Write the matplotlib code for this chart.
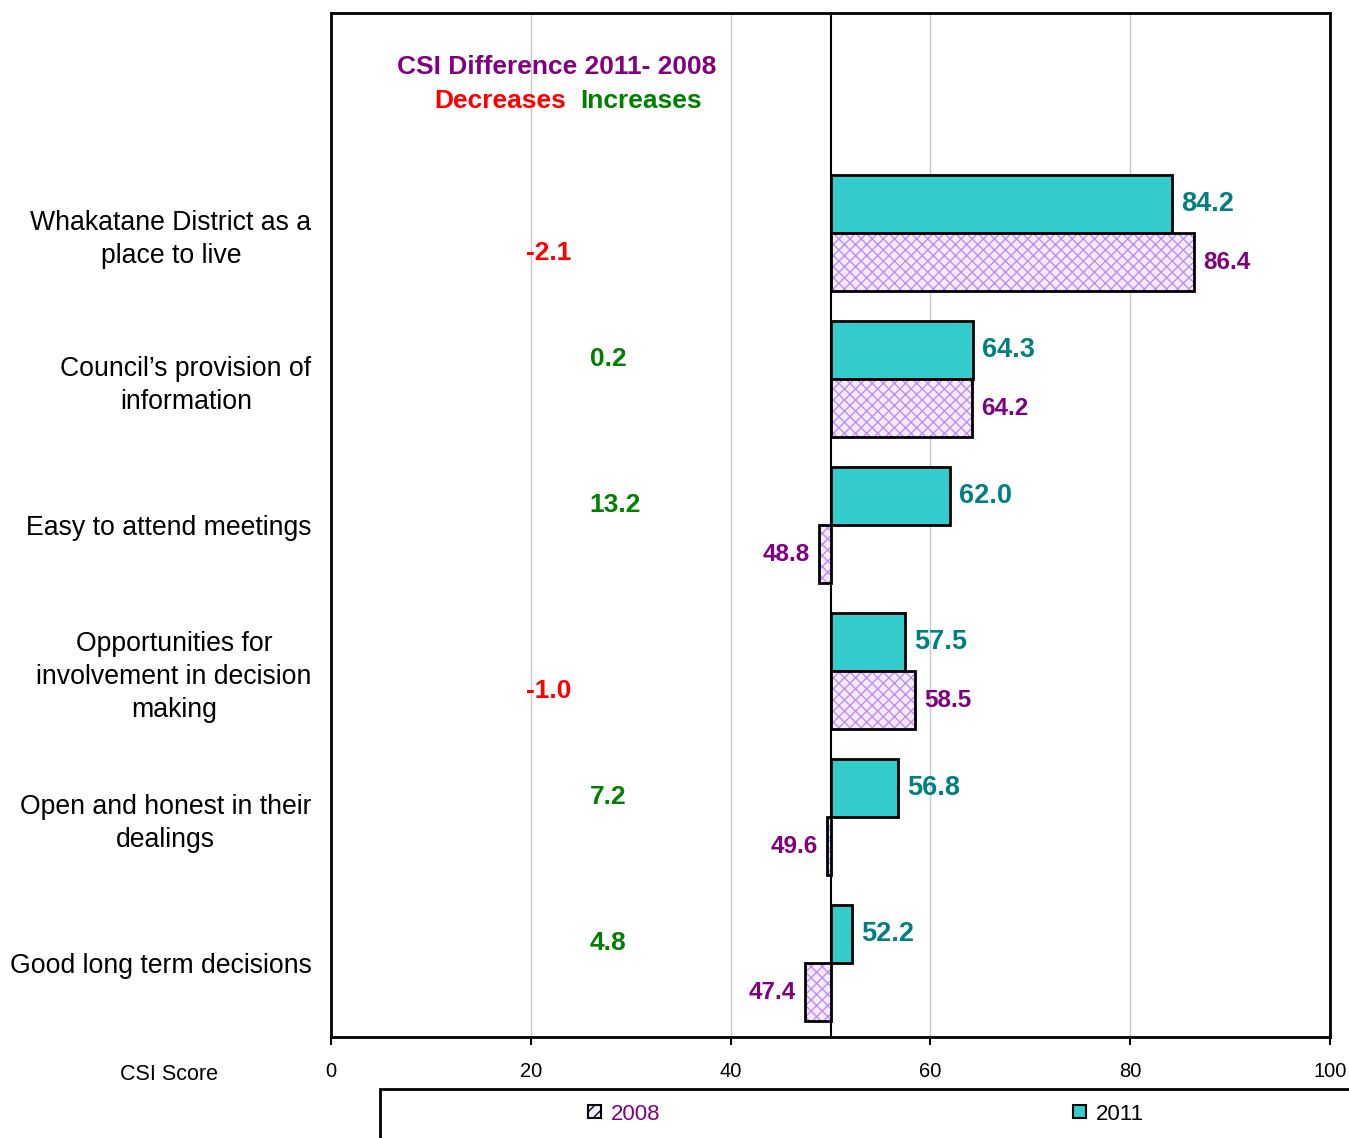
import numpy as np
import matplotlib.pyplot as plt
from matplotlib.patches import Rectangle, Patch

plt.rcParams['font.family'] = ['Liberation Sans', 'DejaVu Sans']

categories = ['Whakatane District as a\nplace to live',
              'Council\u2019s provision of\ninformation',
              'Easy to attend meetings',
              'Opportunities for\ninvolvement in decision\nmaking',
              'Open and honest in their\ndealings',
              'Good long term decisions']
score_2011 = [84.2, 64.3, 62.0, 57.5, 56.8, 52.2]
score_2008 = [86.4, 64.2, 48.8, 58.5, 49.6, 47.4]
difference = [-2.1, 0.2, 13.2, -1.0, 7.2, 4.8]
base = 50

teal = '#33CCCC'
teal_txt = '#008080'
purple = '#800080'
green = '#008000'
red = '#FF0000'

fig = plt.figure(figsize=(13.49, 11.38), dpi=100)
ax = fig.add_axes([331 / 1349, 1 - 1037 / 1138, (1330 - 331) / 1349, (1037 - 13) / 1138])

y = np.arange(len(categories))
h = 0.4
w11 = np.array(score_2011) - base
w08 = np.array(score_2008) - base

ax.barh(y - h / 2, w11, height=h, left=base, color=teal, edgecolor='black', linewidth=2, zorder=3)
# 2008 bars: hatched fill, then black outline
ax.barh(y + h / 2, w08, height=h, left=base, color='#f5ebff', edgecolor='#c08ef5',
        hatch='xxx', linewidth=0, zorder=3)
ax.barh(y + h / 2, w08, height=h, left=base, fill=False, edgecolor='black', linewidth=2, zorder=4)

for i in range(len(categories)):
    ax.text(score_2011[i] + 0.9, y[i] - h / 2, f'{score_2011[i]:.1f}', color=teal_txt,
            fontsize=19.5, fontweight='bold', va='center', ha='left')
    if score_2008[i] >= base:
        ax.text(score_2008[i] + 0.9, y[i] + h / 2, f'{score_2008[i]:.1f}', color=purple,
                fontsize=17.5, fontweight='bold', va='center', ha='left')
    else:
        ax.text(score_2008[i] - 0.9, y[i] + h / 2, f'{score_2008[i]:.1f}', color=purple,
                fontsize=17.5, fontweight='bold', va='center', ha='right')
    d = difference[i]
    if d < 0:
        ax.text(19.5, y[i] + 0.14, f'{d:.1f}', color=red, fontsize=19, fontweight='bold',
                va='center', ha='left')
    else:
        ax.text(25.9, y[i] - 0.14, f'{d:.1f}', color=green, fontsize=19, fontweight='bold',
                va='center', ha='left')

ax.text(22.6, -1.137, 'CSI Difference 2011- 2008', color=purple, fontsize=19,
        fontweight='bold', ha='center', va='center')
ax.text(23.5, -0.904, 'Decreases', color=red, fontsize=19, fontweight='bold', ha='right', va='center')
ax.text(25.0, -0.904, 'Increases', color=green, fontsize=19, fontweight='bold', ha='left', va='center')

ax.axvline(base, color='black', linewidth=1.5, zorder=2)
ax.set_xlim(0, 100)
ax.set_ylim(5.507, -1.507)
ax.set_xticks(np.arange(0, 101, 20))
ax.set_xticklabels([str(v) for v in range(0, 101, 20)], fontsize=14.5)
ax.set_yticks(y)
ax.set_yticklabels(categories, fontsize=19.2, multialignment='center', linespacing=1.35)
ax.tick_params(axis='y', length=0, pad=14)
ax.tick_params(axis='x', length=6, width=1.5, pad=12)
for gx in [20, 40, 60, 80]:
    ax.axvline(gx, color='#c8c8c8', linewidth=1, zorder=1)
for s in ax.spines.values():
    s.set_linewidth(2)

fig.text(169 / 1349, 1 - 1075 / 1138, 'CSI Score', fontsize=15.5, ha='center', va='center')

# legend box running off the bottom right
fig.patches.append(Rectangle((380 / 1349, -0.05), 1.0, 1 - 1089 / 1138 + 0.05,
                             transform=fig.transFigure, fill=False, edgecolor='black',
                             linewidth=2))
handles = [Patch(facecolor='#f5ebff', edgecolor='black', hatch='///', linewidth=1.5),
           Patch(facecolor=teal, edgecolor='black', linewidth=1.5)]
leg = fig.legend(handles, ['2008', '2011'], ncol=2, frameon=False, fontsize=16,
                 loc='center', bbox_to_anchor=(866 / 1349, 1 - 1114 / 1138),
                 handlelength=0.55, handleheight=0.55, handletextpad=0.45, columnspacing=18.6)
leg.get_texts()[0].set_color(purple)

fig.savefig('out.png', dpi=100)
